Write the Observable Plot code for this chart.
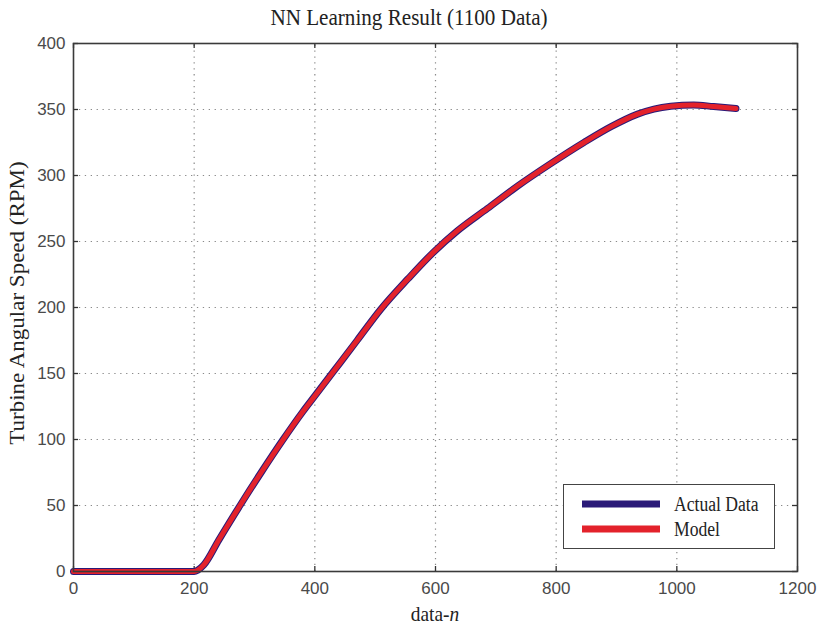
<!DOCTYPE html>
<html>
<head>
<meta charset="utf-8">
<script src="https://cdn.jsdelivr.net/npm/d3@7"></script>
<script src="https://cdn.jsdelivr.net/npm/@observablehq/plot@0.6"></script>
<style>
  html, body { margin: 0; padding: 0; background: #fff; overflow: hidden; }
  #wrap { position: relative; width: 819px; height: 629px; }
  #wrap svg { position: absolute; left: 0; top: 0; }
  .ov { position: absolute; width: 0; height: 0; transform-origin: 0 0; }
  .ov > span { position: absolute; left: 0; top: 0; white-space: nowrap; transform: translate(-50%, -50%);
               font-family: "Liberation Serif", "Times New Roman", serif; color: #222; }
  #legend { position: absolute; left: 563px; top: 484px; width: 210px; height: 63px;
            border: 1.5px solid #444; background: #fff; }
  .lg-row { position: absolute; left: 0; height: 0; }
  .lg-sw { position: absolute; left: 18px; width: 78px; height: 7px; transform: translateY(-50%); }
  .lg-tx { position: absolute; left: 110px; top: 0; transform: translateY(-50%) scaleX(0.88); transform-origin: 0 50%;
           font-family: "Liberation Serif", "Times New Roman", serif; font-size: 20px; color: #222; white-space: nowrap; }
</style>
</head>
<body>
<div id="wrap"></div>
<script>
// ---- data ----
const dataN  = [0, 200, 206, 216, 241, 276, 311, 346, 380, 400, 430, 470, 509, 555, 598, 636, 686, 736, 791, 846, 891, 935, 962, 990, 1028, 1061, 1098];
const actual = [0, 0, 1, 5, 24, 50, 75, 99, 121, 133, 151, 175, 198.5, 222, 242.5, 258, 275, 292, 309, 325, 337, 346.5, 350.3, 352.5, 353.5, 352.2, 350.8];
const model  = [0, 0, 1, 5, 24, 50, 75, 99, 121, 133, 151, 175, 198.5, 222, 242.5, 258, 275, 292, 309, 325, 337, 346.5, 350.3, 352.5, 353.5, 352.2, 350.8];
const xTicks = [0, 200, 400, 600, 800, 1000, 1200];
const yTicks = [0, 50, 100, 150, 200, 250, 300, 350, 400];
const seriesNames = ["Actual Data", "Model"];
const seriesColors = ["#2a1a78", "#e3222b"];
const titleText = "NN Learning Result (1100 Data)";
const yLabelText = "Turbine Angular Speed (RPM)";

// ---- layout ----
const W = 819, H = 629;
const mL = 73, mR = 22, mT = 43, mB = 58;
const xDom = [xTicks[0], xTicks[xTicks.length - 1]];
const yDom = [yTicks[0], yTicks[yTicks.length - 1]];
const tickPx = 5;
const tickLenX = tickPx * (xDom[1] - xDom[0]) / (W - mL - mR);
const tickLenY = tickPx * (yDom[1] - yDom[0]) / (H - mT - mB);

const rows = [];
dataN.forEach((n, i) => rows.push({n, v: actual[i], s: seriesNames[0]}));
dataN.forEach((n, i) => rows.push({n, v: model[i], s: seriesNames[1]}));

const innerX = xTicks.slice(1, -1);
const innerY = yTicks.slice(1, -1);
const gridStyle = {stroke: "#8a8a8a", strokeWidth: 1.2, strokeDasharray: "1.3,4.6"};

const chart = Plot.plot({
  width: W, height: H,
  marginLeft: mL, marginRight: mR, marginTop: mT, marginBottom: mB,
  style: {fontFamily: "'Liberation Sans', Arial, sans-serif", fontSize: "17px", color: "#4a4a4a", background: "#fff"},
  x: {domain: xDom, ticks: xTicks, tickSize: 0, tickPadding: 10, label: null, tickFormat: d => String(d)},
  y: {domain: yDom, ticks: yTicks, tickSize: 0, tickPadding: 8, label: null, tickFormat: d => String(d)},
  color: {domain: seriesNames, range: seriesColors},
  marks: [
    Plot.ruleX(innerX, {x: d => d, y1: yDom[0], y2: yDom[1], ...gridStyle}),
    Plot.ruleY(innerY, {y: d => d, x1: xDom[0], x2: xDom[1], ...gridStyle}),
    // inward tick marks on all four sides
    Plot.ruleX(xTicks, {x: d => d, y1: yDom[0], y2: yDom[0] + tickLenY, stroke: "#333", strokeWidth: 1.3}),
    Plot.ruleX(xTicks, {x: d => d, y1: yDom[1], y2: yDom[1] - tickLenY, stroke: "#333", strokeWidth: 1.3}),
    Plot.ruleY(yTicks, {y: d => d, x1: xDom[0], x2: xDom[0] + tickLenX, stroke: "#333", strokeWidth: 1.3}),
    Plot.ruleY(yTicks, {y: d => d, x1: xDom[1], x2: xDom[1] - tickLenX, stroke: "#333", strokeWidth: 1.3}),
    Plot.line(rows.filter(r => r.s === seriesNames[0]), {x: "n", y: "v", stroke: seriesColors[0], strokeWidth: 7, curve: "monotone-x"}),
    Plot.line(rows.filter(r => r.s === seriesNames[1]), {x: "n", y: "v", stroke: seriesColors[1], strokeWidth: 5, curve: "monotone-x"}),
    Plot.frame({stroke: "#3a3a3a", strokeWidth: 1.6})
  ]
});

const wrap = document.getElementById("wrap");
wrap.appendChild(chart);

function overlay(html, x, y, size, transform) {
  const d = document.createElement("div");
  d.className = "ov";
  d.style.left = x + "px";
  d.style.top = y + "px";
  d.style.transform = transform;
  const s = document.createElement("span");
  s.style.fontSize = size + "px";
  s.innerHTML = html;
  d.appendChild(s);
  wrap.appendChild(d);
}
overlay(titleText, 409, 17, 24, "scaleX(0.88)");
overlay(yLabelText, 18, 303, 23, "scaleX(0.88) rotate(-90deg)");
overlay("data-<i>n</i>", 435, 614, 22, "scaleX(0.88)");

// legend
const lg = document.createElement("div");
lg.id = "legend";
seriesNames.forEach((name, i) => {
  const r = document.createElement("div");
  r.className = "lg-row";
  r.style.top = (19 + i * 25) + "px";
  const sw = document.createElement("div");
  sw.className = "lg-sw";
  sw.style.background = seriesColors[i];
  const tx = document.createElement("div");
  tx.className = "lg-tx";
  tx.textContent = name;
  r.appendChild(sw); r.appendChild(tx);
  lg.appendChild(r);
});
wrap.appendChild(lg);
</script>
</body>
</html>
